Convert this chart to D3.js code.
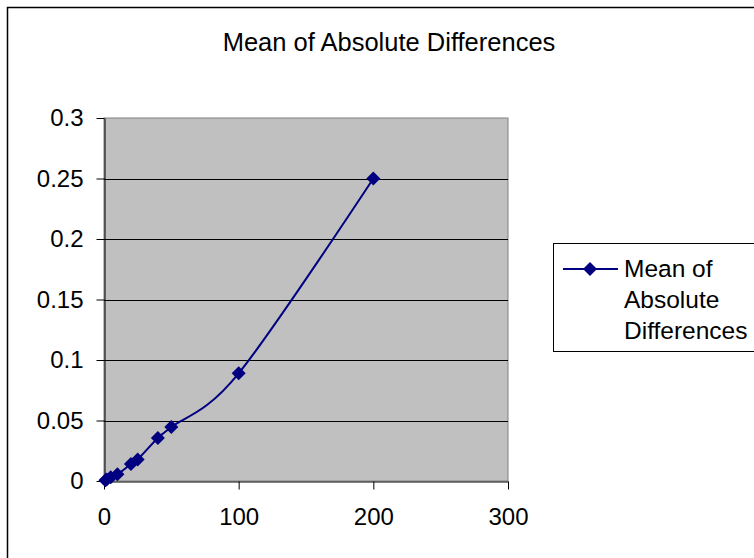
<!DOCTYPE html>
<html lang="en">
<head>
<meta charset="UTF-8">
<title>Mean of Absolute Differences</title>
<script src="https://d3js.org/d3.v7.min.js"></script>
<style>
    body { margin: 0; padding: 0; background: #fff; overflow: hidden; }
    svg { display: block; font-family: "Liberation Sans", Arial, sans-serif; }
</style>
</head>
<body>
<svg id="chart" width="754" height="558"></svg>
<script>
    // data
    const xValues = [1, 2, 5, 10, 20, 25, 40, 50, 100, 200];
    const yValues = [0.0006, 0.0012, 0.003, 0.0055, 0.014, 0.0178, 0.0355, 0.0446, 0.089, 0.25];
    const xTicks = [0, 100, 200, 300];
    const yTicks = [0, 0.05, 0.1, 0.15, 0.2, 0.25, 0.3];
    const yTickLabels = ["0", "0.05", "0.1", "0.15", "0.2", "0.25", "0.3"];
    const seriesName = "Mean of Absolute Differences";
    const legendLines = ["Mean of", "Absolute", "Differences"];

    const svg = d3.select("#chart");
    const plot = { left: 104, top: 118, right: 508, bottom: 481 };
    const navy = "#000080";

    // outer chart border (runs off the right and bottom of the window)
    svg.append("rect")
        .attr("x", 7.5).attr("y", 7.5)
        .attr("width", 800).attr("height", 600)
        .attr("fill", "#fff")
        .attr("stroke", "#000")
        .attr("stroke-width", 1.5);

    svg.append("text")
        .attr("x", 389).attr("y", 51)
        .attr("text-anchor", "middle")
        .attr("font-size", 25.5)
        .text(seriesName);

    const x = d3.scaleLinear().domain([0, 300]).range([plot.left, plot.right]);
    const y = d3.scaleLinear().domain([0, 0.3]).range([plot.bottom, plot.top]);

    // plot area
    svg.append("rect")
        .attr("x", plot.left).attr("y", plot.top)
        .attr("width", plot.right - plot.left)
        .attr("height", plot.bottom - plot.top)
        .attr("fill", "#c0c0c0")
        .attr("stroke", "#808080")
        .attr("stroke-width", 1);

    // gridlines
    svg.append("g")
        .selectAll("line")
        .data(yTicks.filter(d => d > 0 && d < 0.3))
        .enter().append("line")
        .attr("x1", plot.left).attr("x2", plot.right)
        .attr("y1", d => Math.round(y(d)) + 0.5)
        .attr("y2", d => Math.round(y(d)) + 0.5)
        .attr("stroke", "#000")
        .attr("stroke-width", 1);

    // y axis
    const yAxis = svg.append("g")
        .attr("transform", `translate(${plot.left + 0.5},0)`)
        .call(d3.axisLeft(y).tickValues(yTicks)
            .tickFormat((d, i) => yTickLabels[i])
            .tickSize(8).tickSizeOuter(0).tickPadding(13));
    yAxis.select(".domain").attr("stroke", "#000");
    yAxis.selectAll("line").attr("stroke", "#000");
    yAxis.selectAll("text").attr("font-size", 24).attr("fill", "#000")
        .attr("font-family", "Liberation Sans, Arial, sans-serif");

    // x axis
    const xAxis = svg.append("g")
        .attr("transform", `translate(0,${plot.bottom + 0.5})`)
        .call(d3.axisBottom(x).tickValues(xTicks)
            .tickSize(8).tickSizeOuter(0).tickPadding(18));
    xAxis.select(".domain").attr("stroke", "#000");
    xAxis.selectAll("line").attr("stroke", "#000");
    xAxis.selectAll("text").attr("font-size", 24).attr("fill", "#000")
        .attr("font-family", "Liberation Sans, Arial, sans-serif");

    // series
    const points = xValues.map((v, i) => ({ x: v, y: yValues[i] }));
    const line = d3.line()
        .x(d => x(d.x))
        .y(d => y(d.y))
        .curve(d3.curveCardinal.tension(0));

    svg.append("path")
        .datum(points)
        .attr("d", line)
        .attr("fill", "none")
        .attr("stroke", navy)
        .attr("stroke-width", 2);

    // Excel style marker
    const diamond = "M0,-7L7,0L0,7L-7,0Z";
    svg.append("g")
        .selectAll("path")
        .data(points)
        .enter().append("path")
        .attr("d", diamond)
        .attr("transform", d => `translate(${x(d.x)},${y(d.y)})`)
        .attr("fill", navy);

    // legend
    const legend = svg.append("g");
    legend.append("rect")
        .attr("x", 553.5).attr("y", 243.5)
        .attr("width", 260).attr("height", 108)
        .attr("fill", "#fff")
        .attr("stroke", "#000")
        .attr("stroke-width", 1);
    legend.append("line")
        .attr("x1", 563).attr("x2", 618)
        .attr("y1", 269).attr("y2", 269)
        .attr("stroke", navy).attr("stroke-width", 2);
    legend.append("path")
        .attr("d", diamond)
        .attr("transform", "translate(590,269)")
        .attr("fill", navy);
    legend.selectAll("text")
        .data(legendLines)
        .enter().append("text")
        .attr("x", 624)
        .attr("y", (d, i) => 277 + i * 31)
        .attr("font-size", 24.5)
        .text(d => d);
</script>
</body>
</html>
